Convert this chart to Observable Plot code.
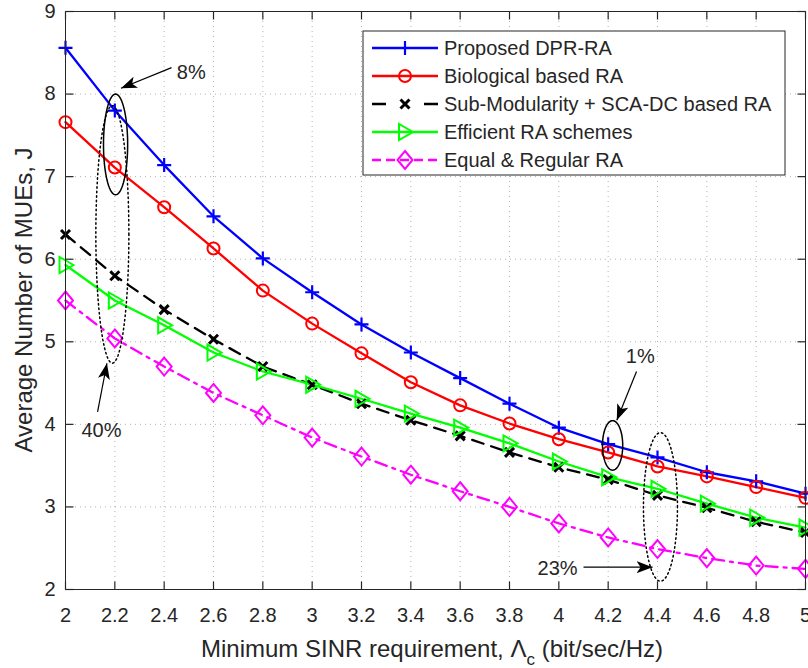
<!DOCTYPE html>
<html><head><meta charset="utf-8">
<script src="https://cdn.jsdelivr.net/npm/d3@7"></script>
<script src="https://cdn.jsdelivr.net/npm/@observablehq/plot@0.6"></script>
<style>
body{margin:0;background:#fff;font-family:"Liberation Sans",Arial,sans-serif}
#chart{position:relative;width:808px;height:668px}
</style>
</head><body><div id="chart"></div>
<script>
// ---- data ----
const sinr = [2,2.2,2.4,2.6,2.8,3,3.2,3.4,3.6,3.8,4,4.2,4.4,4.6,4.8,5];
const proposed     = [8.56,7.80,7.14,6.52,6.01,5.60,5.21,4.87,4.56,4.25,3.96,3.76,3.60,3.42,3.31,3.16];
const biological   = [7.66,7.11,6.63,6.13,5.62,5.22,4.86,4.51,4.23,4.01,3.82,3.66,3.49,3.37,3.24,3.11];
const subModular   = [6.30,5.80,5.39,5.03,4.70,4.48,4.25,4.05,3.86,3.66,3.48,3.33,3.14,2.99,2.82,2.69];
const efficient    = [5.93,5.50,5.20,4.87,4.64,4.48,4.31,4.13,3.96,3.77,3.55,3.36,3.22,3.04,2.87,2.75];
const equalRegular = [5.50,5.04,4.70,4.38,4.11,3.84,3.61,3.39,3.19,3.00,2.80,2.63,2.49,2.38,2.29,2.25];
const seriesNames = ["Proposed DPR-RA","Biological based RA","Sub-Modularity + SCA-DC based RA","Efficient RA schemes","Equal & Regular RA"];
const seriesColors = ["#0000ff","#ff0000","#000000","#00ff00","#ff00ff"];
const seriesDash = [null,null,"12,8",null,"12,6,3,6"];
const legendDash = [null,null,"14,38,14","9,5",null];
const xTicks = [2,2.2,2.4,2.6,2.8,3,3.2,3.4,3.6,3.8,4,4.2,4.4,4.6,4.8,5];
const yTicks = [2,3,4,5,6,7,8,9];
const xLabel = "Minimum SINR requirement, ";
const yLabel = "Average Number of MUEs, J";
// annotations (data units)
const ellipses = [
  {cx:2.203, cy:7.39, rx:0.049, ry:0.61, dotted:false},
  {cx:2.19,  cy:6.30, rx:0.067, ry:1.56, dotted:true},
  {cx:4.218, cy:3.745, rx:0.041, ry:0.30, dotted:false},
  {cx:4.412, cy:3.00, rx:0.069, ry:0.90, dotted:true}
];
const notes = [
  {x:2.51, y:8.26, text:"8%"},
  {x:2.146, y:3.92, text:"40%"},
  {x:4.33, y:4.82, text:"1%"},
  {x:3.995, y:2.25, text:"23%"}
];
const arrows = [
  {x1:2.43, y1:8.32, x2:2.225, y2:8.07},
  {x1:2.13, y1:4.15, x2:2.168, y2:4.74},
  {x1:4.315, y1:4.64, x2:4.235, y2:4.05},
  {x1:4.10, y1:2.27, x2:4.38, y2:2.27}
];

// ---- build ----
const allSeries = [proposed,biological,subModular,efficient,equalRegular];
const rows = allSeries.flatMap((vals,i)=>vals.map((v,j)=>({x:sinr[j], y:v, s:i})));

const sym = {
  plus:{draw(c){c.moveTo(-7,0);c.lineTo(7,0);c.moveTo(0,-7);c.lineTo(0,7);}},
  circle:{draw(c){c.moveTo(6,0);c.arc(0,0,6,0,2*Math.PI);c.closePath();}},
  times:{draw(c){c.moveTo(-4.5,-4.5);c.lineTo(4.5,4.5);c.moveTo(-4.5,4.5);c.lineTo(4.5,-4.5);}},
  tri:{draw(c){c.moveTo(8,0);c.lineTo(-6,-8);c.lineTo(-6,8);c.closePath();}},
  diamond:{draw(c){c.moveTo(0,-9);c.lineTo(7.5,0);c.lineTo(0,9);c.lineTo(-7.5,0);c.closePath();}}
};
const symList = [sym.plus,sym.circle,sym.times,sym.tri,sym.diamond];
const symWidth = [2.2,2,3,2,2];

const tickUp = {draw(c){c.moveTo(0,0);c.lineTo(0,-8);}};
const tickDown = {draw(c){c.moveTo(0,0);c.lineTo(0,8);}};
const tickRight = {draw(c){c.moveTo(0,0);c.lineTo(8,0);}};
const tickLeft = {draw(c){c.moveTo(0,0);c.lineTo(-8,0);}};

const ellPts = ellipses.flatMap((e,k)=>d3.range(0,73).map(t=>{
  const a = t/72*2*Math.PI;
  return {x:e.cx+e.rx*Math.cos(a), y:e.cy+e.ry*Math.sin(a), k, dotted:e.dotted};
}));

const tickRowsB = xTicks.map(v=>({x:v, y:2}));
const tickRowsT = xTicks.map(v=>({x:v, y:9}));
const tickRowsL = yTicks.map(v=>({x:2, y:v}));
const tickRowsR = yTicks.map(v=>({x:5, y:v}));

const marks = [
  Plot.gridX(xTicks, {stroke:"#000", strokeOpacity:0.3, strokeDasharray:"1,4"}),
  Plot.gridY(yTicks, {stroke:"#000", strokeOpacity:0.3, strokeDasharray:"1,4"}),
  Plot.axisX(xTicks, {tickSize:0, tickPadding:18, fontSize:20, label:null, tickFormat:d=>String(d), fill:"#262626"}),
  Plot.axisY(yTicks, {tickSize:0, tickPadding:10, fontSize:20, label:null, tickFormat:d=>String(d), fill:"#262626"}),
  Plot.dot(tickRowsB, {x:"x", y:"y", symbol:tickUp, r:4, stroke:"#262626", fill:"none", strokeWidth:1.2}),
  Plot.dot(tickRowsT, {x:"x", y:"y", symbol:tickDown, r:4, stroke:"#262626", fill:"none", strokeWidth:1.2}),
  Plot.dot(tickRowsL, {x:"x", y:"y", symbol:tickRight, r:4, stroke:"#262626", fill:"none", strokeWidth:1.2}),
  Plot.dot(tickRowsR, {x:"x", y:"y", symbol:tickLeft, r:4, stroke:"#262626", fill:"none", strokeWidth:1.2}),
];
allSeries.forEach((vals,i)=>{
  const d = rows.filter(r=>r.s===i);
  marks.push(Plot.line(d, {x:"x", y:"y", stroke:seriesColors[i], strokeWidth:2.3, strokeDasharray:seriesDash[i]}));
});
allSeries.forEach((vals,i)=>{
  const d = rows.filter(r=>r.s===i);
  marks.push(Plot.dot(d, {x:"x", y:"y", r:6, symbol:symList[i], stroke:seriesColors[i], fill:"none", strokeWidth:symWidth[i]}));
});
marks.push(
  Plot.line(ellPts.filter(p=>!p.dotted), {x:"x", y:"y", z:"k", stroke:"#000", strokeWidth:1.5}),
  Plot.line(ellPts.filter(p=>p.dotted), {x:"x", y:"y", z:"k", stroke:"#000", strokeWidth:1.5, strokeDasharray:"1.5,3"}),
  Plot.link(arrows, {x1:"x1", y1:"y1", x2:"x2", y2:"y2", stroke:"#000", strokeWidth:1.2}),
  Plot.text(notes, {x:"x", y:"y", text:"text", fontSize:20, fill:"#262626"}),
  Plot.frame({stroke:"#262626", strokeWidth:1})
);

const chart = Plot.plot({
  width:808, height:668,
  marginLeft:65, marginRight:3, marginTop:11, marginBottom:79,
  x:{domain:[2,5]}, y:{domain:[2,9]},
  style:{fontFamily:"'Liberation Sans', Arial, sans-serif", background:"#fff", overflow:"visible"},
  marks
});
document.getElementById("chart").appendChild(chart);

// post: arrowheads, labels, legend
const svg = d3.select(chart);
const defs = svg.append("defs");
defs.append("marker").attr("id","ahead").attr("viewBox","0 0 16 12").attr("refX",16).attr("refY",6)
  .attr("markerWidth",16).attr("markerHeight",12).attr("markerUnits","userSpaceOnUse").attr("orient","auto")
  .append("path").attr("d","M0,0L16,6L0,12L4,6Z").attr("fill","#000");
svg.selectAll('g[aria-label="link"] path').attr("marker-end","url(#ahead)");

const xl = svg.append("text").attr("x",432).attr("y",657).attr("text-anchor","middle")
  .attr("font-size",24).attr("fill","#262626");
xl.append("tspan").text(xLabel);
xl.append("tspan").text("Λ");
xl.append("tspan").attr("font-size",17).attr("dy",8).text("c");
xl.append("tspan").attr("dy",-8).text(" (bit/sec/Hz)");

svg.append("text").attr("transform","translate(32,300) rotate(-90)").attr("text-anchor","middle")
  .attr("font-size",24).attr("fill","#262626").text(yLabel);

const lg = svg.append("g").attr("text-anchor","start");
lg.append("rect").attr("x",363).attr("y",31).attr("width",422).attr("height",144)
  .attr("fill","#fff").attr("stroke","#262626").attr("stroke-width",1);
const ly = [48,76,104,132,160];
seriesNames.forEach((n,i)=>{
  lg.append("line").attr("x1",372).attr("x2",438).attr("y1",ly[i]).attr("y2",ly[i])
    .attr("stroke",seriesColors[i]).attr("stroke-width",2.3)
    .attr("stroke-dasharray",i===2 ? "14,38,14" : (i===4 ? "9,5" : null));
  const p = d3.path(); symList[i].draw(p);
  lg.append("path").attr("d",p.toString()).attr("transform",`translate(405,${ly[i]})`)
    .attr("fill","none").attr("stroke",seriesColors[i]).attr("stroke-width",symWidth[i]);
  lg.append("text").attr("x",444).attr("y",ly[i]).attr("dy","0.35em").attr("font-size",20)
    .attr("text-anchor","start").attr("fill","#262626").text(n);
});
</script>
</body></html>
